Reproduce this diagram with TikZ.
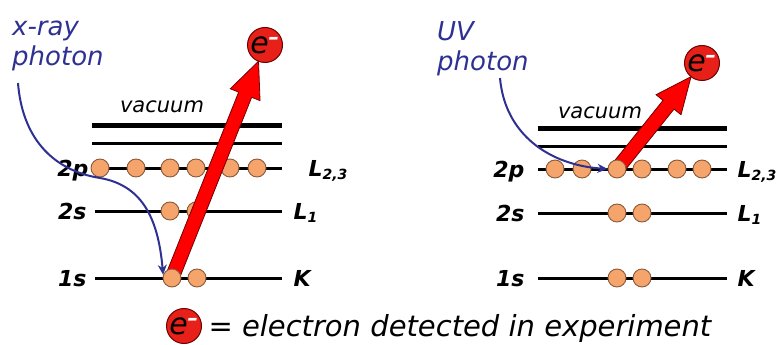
\documentclass[tikz,border=0pt]{standalone}
\usepackage{fontspec}
\setmainfont{DejaVu Sans}
\usepackage{xcolor}
\usetikzlibrary{arrows.meta, calc}
\definecolor{photonblue}{HTML}{2E3192}
\definecolor{elecfill}{HTML}{F5A46C}
\definecolor{elecdraw}{HTML}{8A5A3A}
\definecolor{ejectred}{HTML}{E8201A}
\definecolor{kickred}{HTML}{FF0000}
\definecolor{ejectdark}{HTML}{700000}

\newcommand{\eminus}{e\textsuperscript{\color{white}\bfseries --}}
% thick red arrow from #1 (start) to the border of node #2
\newcommand{\ejectarrow}[2]{%
  \coordinate (tip) at ($(#2)!17.5pt!(#1)$);
  \coordinate (hb) at ($(tip)!36pt!(#1)$);
  \path[kick] ($(#1)!7pt!90:(tip)$) -- ($(hb)!7pt!90:(tip)$) -- ($(hb)!16pt!90:(tip)$)
    -- (tip) -- ($(hb)!16pt!-90:(tip)$) -- ($(hb)!7pt!-90:(tip)$) -- ($(#1)!7pt!-90:(tip)$) -- cycle;}

\begin{document}
\begin{tikzpicture}[x=1pt, y=-1pt,
  level/.style={line width=3pt},
  vacthick/.style={line width=5pt},
  vacthin/.style={line width=3pt},
  vaclbl/.style={font=\fontsize{21}{21}\selectfont\itshape},
  elec/.style={circle, fill=elecfill, draw=elecdraw, line width=0.9pt, minimum size=18pt, inner sep=0pt},
  ejected/.style={circle, fill=ejectred, draw=ejectdark, line width=1pt, minimum size=35pt, inner sep=0pt, font=\fontsize{30}{30}\selectfont\itshape},
  orbital/.style={font=\fontsize{22}{22}\selectfont\bfseries\itshape},
  photonlbl/.style={text=photonblue, align=left, inner sep=0pt, font=\fontsize{26}{30}\selectfont\itshape},
  photon/.style={draw=photonblue, line width=2pt, -{Stealth[length=10pt, width=9pt]}},
  kick/.style={fill=kickred, draw=ejectdark, line width=0.8pt, line join=miter},
  legendtxt/.style={font=\fontsize{29}{29}\selectfont\itshape}
]
\useasboundingbox (0,0) rectangle (777,345);

% ---- left: x-ray photon ----
\draw[vacthick] (92,125) -- (282,125);
\draw[vacthin] (92,143) -- (282,143);
\node[vaclbl, anchor=base] (vacL) at (162,113) {vacuum};
\foreach \y/\x in {168/100, 211/95, 278/95}
  \draw[level] (\x,\y) -- (282,\y);

\node[orbital, anchor=base east] (p2L) at (92,176) {2p};
\node[orbital, anchor=base east] (s2L) at (90,219) {2s};
\node[orbital, anchor=base east] (s1L) at (90,286) {1s};
\node[orbital, anchor=base west] (L23L) at (305,176) {L{\fontsize{14}{14}\selectfont\raisebox{-0.45ex}{2,3}}};
\node[orbital, anchor=base west] (L1L) at (290,219) {L{\fontsize{14}{14}\selectfont\raisebox{-0.45ex}{1}}};
\node[orbital, anchor=base west] (KL) at (290,286) {K};

\foreach \x [count=\i] in {100,136,170,196,230,257}
  \node[elec] (pL\i) at (\x,168) {};
\node[elec] (sL1) at (170,211) {};
\node[elec] (sL2) at (196,211) {};
\node[elec] (kL2) at (197,278) {};

\coordinate (kLfrom) at (172,278);
\node[ejected] (eL) at (265,45) {\eminus};
\ejectarrow{kLfrom}{eL}
\node[elec] (kL1) at (kLfrom) {};

\node[photonlbl, anchor=north west] (xray) at (12,21) {x-ray\\photon};
\coordinate (xstart) at (18,83);
\draw[photon] (xstart) .. controls (22,135) and (50,170) .. (100,178)
  .. controls (140,185) and (158,215) .. (kL1.160);

% ---- right: UV photon ----
\draw[vacthick] (538,128) -- (727,128);
\draw[vacthin] (538,146) -- (727,146);
\node[vaclbl, anchor=base] (vacR) at (600,118) {vacuum};
\foreach \y in {169, 213, 278}
  \draw[level] (538,\y) -- (727,\y);

\node[orbital, anchor=base east] (p2R) at (528,177) {2p};
\node[orbital, anchor=base east] (s2R) at (528,221) {2s};
\node[orbital, anchor=base east] (s1R) at (528,286) {1s};
\node[orbital, anchor=base west] (L23R) at (734,177) {L{\fontsize{14}{14}\selectfont\raisebox{-0.45ex}{2,3}}};
\node[orbital, anchor=base west] (L1R) at (734,221) {L{\fontsize{14}{14}\selectfont\raisebox{-0.45ex}{1}}};
\node[orbital, anchor=base west] (KR) at (734,286) {K};

\foreach \x/\n in {555/1, 582/2, 642/4, 677/5, 702/6}
  \node[elec] (pR\n) at (\x,169) {};
\node[elec] (sR1) at (617,213) {};
\node[elec] (sR2) at (642,213) {};
\node[elec] (kR1) at (617,278) {};
\node[elec] (kR2) at (642,278) {};

\coordinate (pRfrom) at (617,169);
\node[ejected] (eR) at (702,63) {\eminus};
\ejectarrow{pRfrom}{eR}
\node[elec] (pR3) at (pRfrom) {};

\node[photonlbl, anchor=north west] (uv) at (437,21) {UV\\photon};
\coordinate (uvstart) at (500,78);
\draw[photon] (uvstart) .. controls (505,135) and (550,165) .. (pR3.west);

% ---- legend ----
\node[ejected] (eLeg) at (184,326) {\eminus};
\node[legendtxt, anchor=base west] (legtxt) at (205,336) {= electron detected in experiment};
\end{tikzpicture}
\end{document}
